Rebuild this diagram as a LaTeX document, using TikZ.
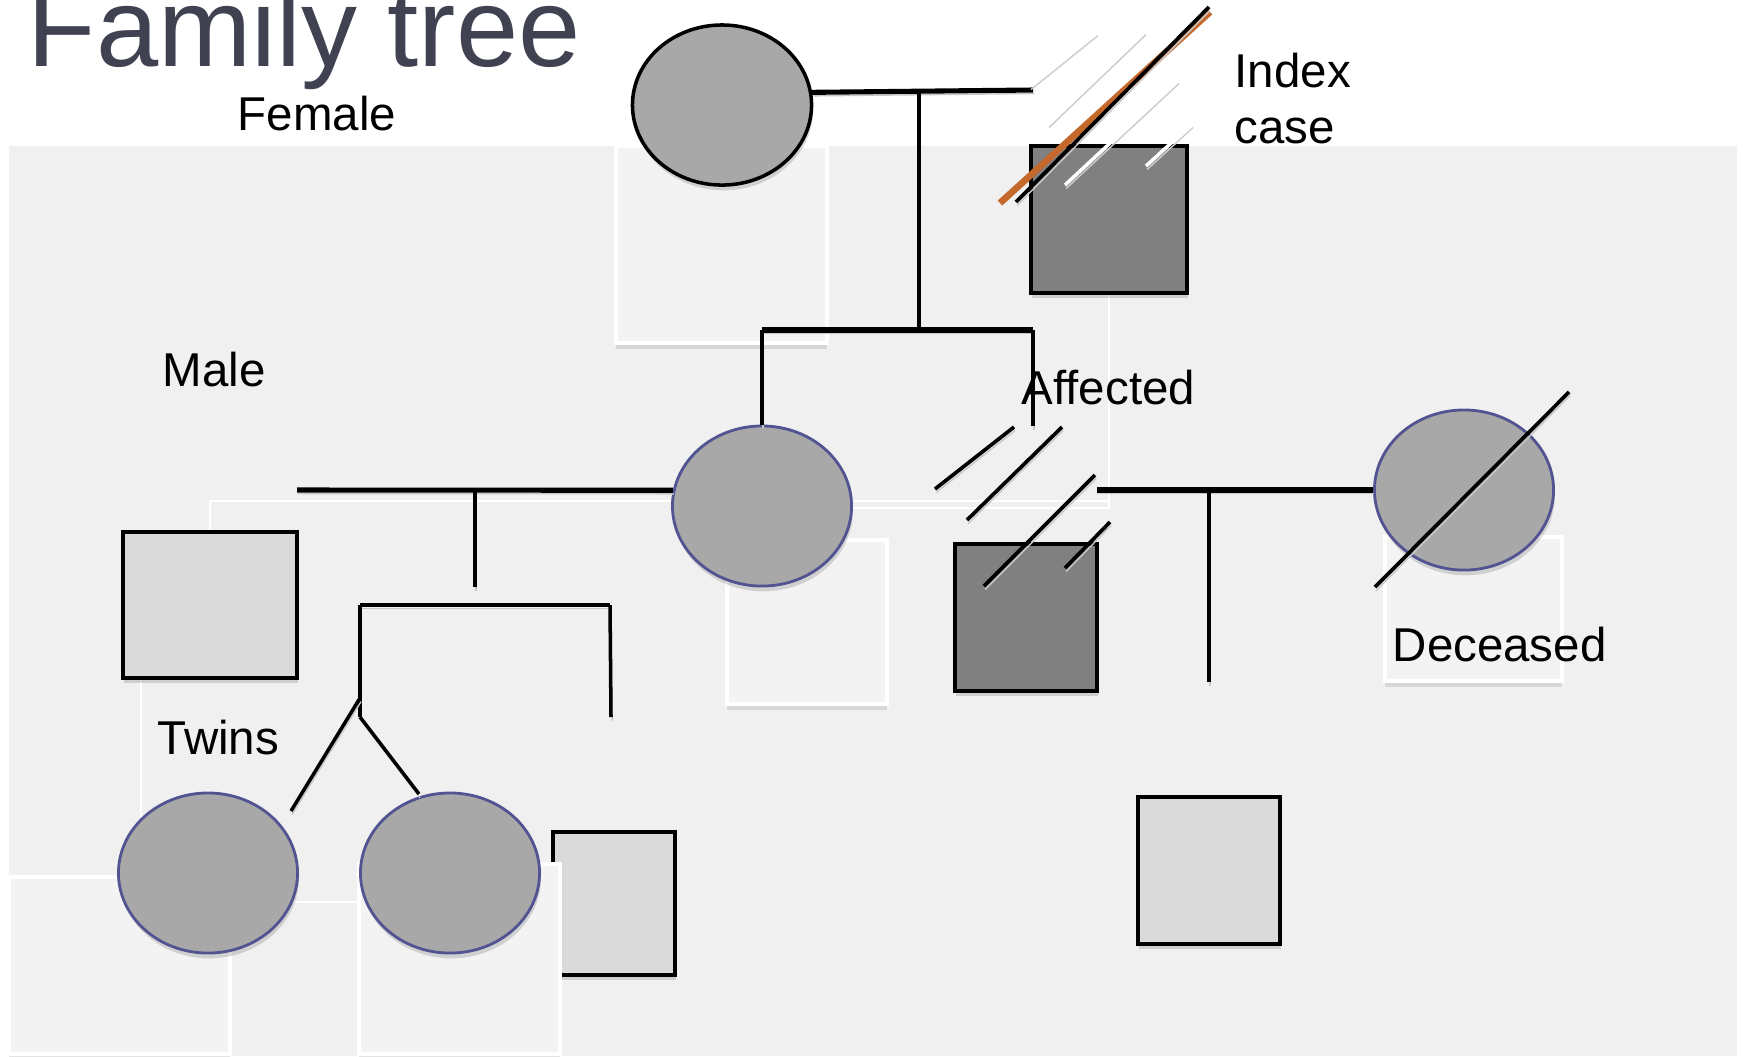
\documentclass[tikz,border=0pt]{standalone}
\usepackage{fontspec}
\setmainfont{Liberation Sans}
\usepackage{tikz}
\usetikzlibrary{shapes.geometric, shadows, positioning}
\definecolor{panelgrey}{RGB}{240, 240, 240}
\definecolor{boxgrey}{RGB}{243, 243, 243}
\definecolor{affectedgrey}{RGB}{128, 128, 128}
\definecolor{femalegrey}{RGB}{168, 168, 168}
\definecolor{malegrey}{RGB}{218, 218, 218}
\definecolor{ringblue}{RGB}{82, 84, 146}
\definecolor{indexorange}{RGB}{196, 104, 44}
\definecolor{titlecolor}{RGB}{64, 66, 82}

\begin{document}
\begin{tikzpicture}[
    x=0.01cm, y=-0.01cm,
    note/.style={anchor=base west, inner sep=0pt, font=\fontsize{13.5}{16}\selectfont},
    placeholder/.style={draw=white, line width=0.9pt, fill=boxgrey, drop shadow={shadow xshift=0pt, shadow yshift=-1.6pt, opacity=0.22}},
    ghost/.style={draw=white, line width=0.7pt},
    female/.style={ellipse, draw=ringblue, line width=0.8pt, fill=femalegrey, minimum width=1.79cm, minimum height=1.6cm, inner sep=0pt, drop shadow={shadow xshift=0.4pt, shadow yshift=-1.5pt, opacity=0.3}},
    male/.style={rectangle, draw=black, line width=1pt, fill=malegrey, inner sep=0pt, drop shadow={shadow xshift=0.4pt, shadow yshift=-1.5pt, opacity=0.3}},
    shadowed/.style={preaction={draw=black!22, transform canvas={xshift=0.3pt, yshift=-1pt}}},
    marriage/.style={shadowed, line width=1.45pt},
    descent/.style={shadowed, line width=1pt},
    hatch/.style={shadowed, line width=1.05pt},
    ghostslash/.style={draw=white, line width=1pt, preaction={draw=black!20, transform canvas={xshift=0.3pt, yshift=-1pt}}}
]
    \useasboundingbox (0,0) rectangle (1743,1056);
    \fill[white] (0,0) rectangle (1743,1056);
    \fill[panelgrey] (9,146) rectangle (1737,1056);

    % Title
    \node[anchor=base west, inner sep=0pt, text=titlecolor, font=\fontsize{31.8}{38}\selectfont] (title) at (27,66) {Family tree};

    % Faint text frames
    \draw[ghost] (210,573) -- (210,501) -- (1109,501);
    \draw[ghost] (852,508) -- (1109,508) -- (1109,293);
    \draw[ghost] (141,678) -- (141,902) -- (360,902);

    % Text boxes behind the symbols
    \draw[placeholder] (616,146) rectangle (827,343);
    \draw[placeholder] (727,540) rectangle (887,704);
    \draw[placeholder] (1385,537) rectangle (1562,681);
    \draw[placeholder] (9,877) rectangle (230,1054);
    \node[male, minimum width=1.22cm, minimum height=1.43cm] (son) at (614,903.5) {};
    \draw[placeholder] (359,864) rectangle (560,1054);

    % Generation I
    \node[female, draw=black, line width=1pt] (grandma) at (722,105) {};
    \node[male, fill=affectedgrey, minimum width=1.56cm, minimum height=1.47cm] (index) at (1109,219.5) {};

    % Generation II
    \node[male, minimum width=1.74cm, minimum height=1.46cm] (husband) at (210,605) {};
    \node[female] (mother) at (762,506) {};
    \node[male, fill=affectedgrey, minimum width=1.42cm, minimum height=1.47cm] (affected) at (1026,617.5) {};
    \node[female] (deceased) at (1464,490) {};

    % Generation III
    \node[female] (twinA) at (208,873) {};
    \node[female] (twinB) at (450,873) {};
    \node[male, minimum width=1.42cm, minimum height=1.47cm] (grandson) at (1209,870.5) {};

    % Junction points
    \coordinate (topmar) at (1033,90);
    \coordinate (topdrop) at (919,93);
    \coordinate (topsib) at (919,330);
    \coordinate (sibL) at (762,330);
    \coordinate (sibR) at (1033,330);
    \coordinate (sibRend) at (1033,426);
    \coordinate (leftmar) at (297,490);
    \coordinate (leftdrop) at (475,490);
    \coordinate (leftdropend) at (475,587);
    \coordinate (sib2L) at (360,605);
    \coordinate (sib2R) at (610,605);
    \coordinate (sib2Rend) at (611,717);
    \coordinate (forkA) at (360,698);
    \coordinate (forkB) at (360,717);
    \coordinate (twinAend) at (291,811);
    \coordinate (twinBend) at (419,794);
    \coordinate (rightmar) at (1097,490);
    \coordinate (rightdrop) at (1209,490);
    \coordinate (rightdropend) at (1209,682);

    % Pedigree lines
    \draw[marriage] (grandma.8) -- (topmar);
    \draw[descent, line width=1.2pt] (topdrop) -- (topsib);
    \draw[marriage] (sibL) -- (sibR);
    \draw[descent] (sibL) -- (mother.north);
    \draw[descent] (sibR) -- (sibRend);

    \draw[marriage] (leftmar) -- (mother.170);
    \draw[descent] (leftdrop) -- (leftdropend);
    \draw[marriage, line width=1.2pt] (sib2L) -- (sib2R);
    \draw[descent] (sib2L) -- (forkB);
    \draw[descent] (sib2R) -- (sib2Rend);
    \draw[descent] (forkA) -- (twinAend);
    \draw[descent] (forkB) -- (twinBend);

    \draw[marriage] (rightmar) -- (deceased.west);
    \draw[descent] (rightdrop) -- (rightdropend);

    % Affected hatching
    \draw[hatch] (1014,427) -- (935,489);
    \draw[hatch] (1062,427) -- (967,520);
    \draw[hatch] (1095,475) -- (984,586);
    \draw[hatch] (1110,522) -- (1065,568);

    % Deceased slash
    \draw[hatch] (1569,392) -- (1375,587);

    % Index case marks
    \foreach \xa/\ya/\xb/\yb in {1097/32/1030/86, 1145/31/1048/124, 1178/80/1065/185, 1192/124/1146/166}
        \draw[ghostslash] (\xa,\ya) -- (\xb,\yb);
    \draw[indexorange, line width=1.9pt] (1000,203) -- (1210,12);
    \draw[hatch] (1016,202) -- (1209,7);

    % Labels
    \node[note] (femaletext) at (237,130) {Female};
    \node[note] (maletext) at (162,386) {Male};
    \node[note] (twinstext) at (157,754) {Twins};
    \node[note] (affectedtext) at (1021,404) {Affected};
    \node[note] (deceasedtext) at (1392,661) {Deceased};
    \node[note] (indextext) at (1234,87) {Index};
    \node[note, below=0.56cm of indextext.base west, anchor=base west] (casetext) {case};

\end{tikzpicture}
\end{document}
